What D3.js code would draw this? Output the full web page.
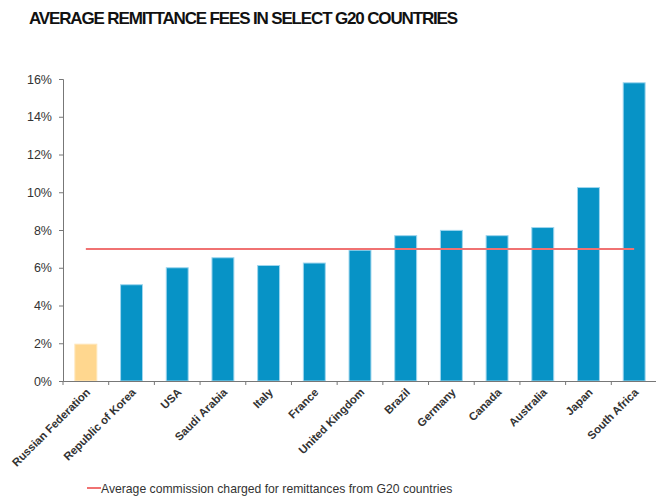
<!DOCTYPE html>
<html>
<head>
<meta charset="utf-8">
<script src="https://cdn.jsdelivr.net/npm/d3@7"></script>
<style>
  body { margin: 0; background: #fff; }
  svg text { font-family: "Liberation Sans", Arial, sans-serif; }
</style>
</head>
<body>
<svg width="656" height="500"></svg>
<script>
// chart data
var countries = ["Russian Federation", "Republic of Korea", "USA", "Saudi Arabia", "Italy",
    "France", "United Kingdom", "Brazil", "Germany", "Canada", "Australia", "Japan", "South Africa"];
var fees = [1.95, 5.1, 6.0, 6.53, 6.12, 6.25, 6.93, 7.7, 7.98, 7.7, 8.13, 10.25, 15.8];
var averageFee = 7.0;
var yTicks = [0, 2, 4, 6, 8, 10, 12, 14, 16];
var highlighted = ["Russian Federation"];

var svg = d3.select("svg");

// borders of the plot area
var border = { top: 79, bottom: 119, left: 63, right: -1 };
var width = +svg.attr("width") - border.left - border.right;
var height = +svg.attr("height") - border.top - border.bottom;

// title
svg.append("text")
    .attr("x", 29)
    .attr("y", 24)
    .attr("font-size", 17)
    .attr("font-weight", "bold")
    .attr("letter-spacing", -1.15)
    .attr("fill", "#111")
    .text("AVERAGE REMITTANCE FEES IN SELECT G20 COUNTRIES");

var g = svg.append("g")
    .attr("transform", "translate(" + border.left + "," + border.top + ")");

var xScale = d3.scaleBand()
    .domain(countries)
    .range([0, width])
    .paddingInner(0.52)
    .paddingOuter(0.26);

var yScale = d3.scaleLinear()
    .domain([0, 16])
    .range([height, 0]);

// y axis
var yAxis = d3.axisLeft(yScale)
    .tickValues(yTicks)
    .tickSize(4)
    .tickPadding(7)
    .tickFormat((d) => d + "%");

var yg = g.append("g").attr("class", "y axis").call(yAxis);
yg.select(".domain").attr("stroke", "#777");
yg.selectAll(".tick line").attr("stroke", "#777");
yg.selectAll(".tick text")
    .attr("font-size", 12.5)
    .attr("fill", "#333")
    .style("font-family", "'Liberation Sans', Arial, sans-serif");

// bars
g.selectAll("rect.bar")
    .data(countries)
    .enter()
    .append("rect")
        .attr("class", "bar")
        .attr("x", (d) => xScale(d))
        .attr("y", (d, i) => yScale(fees[i]))
        .attr("width", xScale.bandwidth())
        .attr("height", (d, i) => height - yScale(fees[i]))
        .attr("fill", (d) => highlighted.includes(d) ? "#ffd78f" : "#0793c6")
        .attr("stroke", (d) => highlighted.includes(d) ? "#ffe6b8" : "#9fd6ee")
        .attr("stroke-width", 1);

// x axis with ticks at the band edges
var xAxis = d3.axisBottom(xScale).tickSize(0).tickFormat("");
var xg = g.append("g")
    .attr("class", "x axis")
    .attr("transform", "translate(0," + height + ")")
    .call(xAxis);
xg.select(".domain").attr("stroke", "#777");

var step = xScale.step();
var x0 = xScale(countries[0]) - xScale.paddingOuter() * step;
xg.selectAll("line.edge")
    .data(countries)
    .enter()
    .append("line")
        .attr("class", "edge")
        .attr("x1", (d, i) => x0 + i * step)
        .attr("x2", (d, i) => x0 + i * step)
        .attr("y1", 0)
        .attr("y2", 4)
        .attr("stroke", "#777");

// rotated category labels
g.selectAll("text.xlabel")
    .data(countries)
    .enter()
    .append("text")
        .attr("class", "xlabel")
        .attr("transform", (d) => "translate(" + (xScale(d) + xScale.bandwidth() / 2 + 5) + "," + (height + 12) + ") rotate(-45)")
        .attr("text-anchor", "end")
        .attr("font-size", 11.3)
        .attr("font-weight", "bold")
        .attr("fill", "#333")
        .text((d) => d);

// average line from first to last category centre
var first = countries[0], last = countries[countries.length - 1];
g.append("line")
    .attr("x1", xScale(first) + xScale.bandwidth() / 2)
    .attr("x2", xScale(last) + xScale.bandwidth() / 2)
    .attr("y1", yScale(averageFee))
    .attr("y2", yScale(averageFee))
    .attr("stroke", "#f07272")
    .attr("stroke-width", 2);

// legend
var legend = svg.append("g").attr("transform", "translate(87,488)");
legend.append("line")
    .attr("x1", 0).attr("x2", 14)
    .attr("y1", 0).attr("y2", 0)
    .attr("stroke", "#f07272")
    .attr("stroke-width", 2);
legend.append("text")
    .attr("x", 14)
    .attr("y", 4.5)
    .attr("font-size", 12.2)
    .attr("fill", "#333")
    .text("Average commission charged for remittances from G20 countries");
</script>
</body>
</html>
